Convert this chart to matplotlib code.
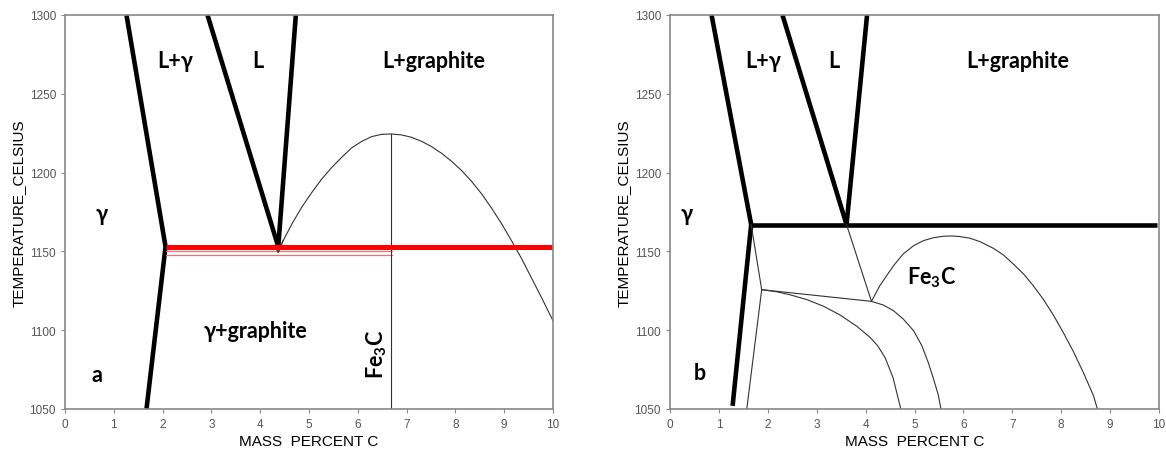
import matplotlib.pyplot as plt
import numpy as np

# ---- panel a (graphite eutectic) ----
a_solidus_c = [1.26, 2.06, 1.67]
a_solidus_t = [1300, 1153, 1050]
a_liq_gamma_c = [2.92, 4.37]
a_liq_gamma_t = [1300, 1153]
a_liq_graph_c = [4.73, 4.37]
a_liq_graph_t = [1300, 1153]
a_eutectic_t = 1152.8
a_eutectic_c = [2.06, 10]
a_meta_t = [1150.2, 1147.8]   # thin red double line
a_meta_c = [2.06, 6.7]
a_v_c = [4.30, 4.37, 4.47]
a_v_t = [1153, 1149.4, 1157]
a_cem_c = [4.37, 4.47, 4.65, 4.85, 5.06, 5.26, 5.47, 5.67, 5.87, 6.08, 6.28, 6.49,
           6.69, 6.90, 7.10, 7.31, 7.51, 7.72, 7.92, 8.13, 8.33, 8.54, 8.74, 8.95,
           9.15, 9.36, 9.56, 9.77, 10.0]
a_cem_t = [1149.4, 1156.8, 1167.4, 1178.0, 1187.5, 1195.9, 1203.4, 1209.7, 1215.6,
           1219.8, 1222.8, 1224.3, 1224.5, 1223.9, 1222.4, 1219.8, 1216.5, 1212.2,
           1207.2, 1201.2, 1194.5, 1186.4, 1177.5, 1167.4, 1156.8, 1145.2, 1133.1,
           1120.4, 1106.0]
a_fe3c_c = [6.69, 6.69]
a_fe3c_t = [1224.5, 1050]

# ---- panel b (cementite eutectic) ----
b_solidus_c = [0.85, 1.66, 1.28]
b_solidus_t = [1300, 1167, 1052]
b_liq_gamma_c = [2.30, 3.61]
b_liq_gamma_t = [1300, 1167]
b_liq_graph_c = [4.03, 3.61]
b_liq_graph_t = [1300, 1167]
b_eutectic_t = 1167
b_eutectic_c = [1.66, 9.95]
b_thin1_c = [1.66, 1.875, 1.57]
b_thin1_t = [1167, 1125.7, 1050]
b_thin2_c = [1.875, 4.12]
b_thin2_t = [1125.7, 1118.3]
b_thin3_c = [3.61, 4.12]
b_thin3_t = [1167, 1118.3]
b_curve1_c = [1.875, 2.18, 2.45, 2.80, 3.14, 3.48, 3.82, 4.09, 4.25, 4.40, 4.56, 4.72]
b_curve1_t = [1125.7, 1124.4, 1122.5, 1119.4, 1115.2, 1109.6, 1102.5, 1095.5,
              1090.0, 1082.5, 1070.0, 1050]
b_curve2_c = [4.12, 4.36, 4.57, 4.77, 4.98, 5.15, 5.28, 5.40, 5.49, 5.54]
b_curve2_t = [1118.3, 1116.0, 1112.4, 1107.1, 1099.7, 1090.2, 1079.6, 1068.0,
              1058.5, 1050]
b_fe3c_c = [4.12, 4.29, 4.57, 4.77, 4.98, 5.18, 5.39, 5.59, 5.76, 5.93, 6.14,
            6.34, 6.61, 6.82, 7.02, 7.23, 7.43, 7.63, 7.84, 8.04, 8.25, 8.45,
            8.66, 8.74]
b_fe3c_t = [1118.3, 1128.2, 1140.9, 1148.4, 1153.6, 1156.8, 1158.7, 1159.6,
            1159.8, 1159.4, 1158.3, 1156.2, 1152.0, 1147.7, 1142.0, 1135.7,
            1128.2, 1119.8, 1109.6, 1098.7, 1086.4, 1073.3, 1058.5, 1050]

plt.rcParams['mathtext.fontset'] = 'custom'
plt.rcParams['mathtext.bf'] = 'Lato:bold'
plt.rcParams['mathtext.rm'] = 'Lato'

lab_font = ['Lato', 'Noto Sans', 'DejaVu Sans']
ax_font = ['Liberation Sans', 'DejaVu Sans']
fs = 15.5

fig = plt.figure(figsize=(11.66, 4.52), dpi=100)
ax1 = fig.add_axes([65 / 1166, 42 / 452, 488 / 1166, 394 / 452])
ax2 = fig.add_axes([670 / 1166, 42 / 452, 489 / 1166, 394 / 452])

thick = 3.3
thin = 0.8
thin_col = '#333333'

def setup(ax):
    ax.set_xlim(0, 10)
    ax.set_ylim(1050, 1300)
    ax.set_xticks(range(0, 11))
    ax.set_yticks([1050, 1100, 1150, 1200, 1250, 1300])
    for s in ax.spines.values():
        s.set_color('#888888')
        s.set_linewidth(1.2)
    ax.tick_params(colors='#888888', labelcolor='#555555', labelsize=8.5, length=3,
                   direction='out')
    for lab in ax.get_xticklabels() + ax.get_yticklabels():
        lab.set_family(ax_font)
    ax.set_xlabel('MASS  PERCENT C', family=ax_font, fontsize=11, labelpad=3)
    ax.set_ylabel('TEMPERATURE_CELSIUS', family=ax_font, fontsize=11, labelpad=3)

def label(ax, x, y, s, **kw):
    ax.text(x, y, s, family=lab_font, fontweight='bold', fontsize=fs,
            ha='center', va='center', **kw)

# panel a
ax = ax1
setup(ax)
ax.plot(a_solidus_c, a_solidus_t, color='black', lw=thick, solid_capstyle='butt')
ax.plot(a_liq_gamma_c, a_liq_gamma_t, color='black', lw=thick, solid_capstyle='butt')
ax.plot(a_liq_graph_c, a_liq_graph_t, color='black', lw=thick, solid_capstyle='butt')
for t in a_meta_t:
    ax.plot(a_meta_c, [t, t], color='#f07070', lw=0.9)
ax.plot(a_v_c, a_v_t, color=thin_col, lw=thin)
ax.plot(a_cem_c, a_cem_t, color=thin_col, lw=thin)
ax.plot(a_fe3c_c, a_fe3c_t, color=thin_col, lw=thin)
ax.plot(a_eutectic_c, [a_eutectic_t] * 2, color='#ff0000', lw=3.6, solid_capstyle='butt')

label(ax, 2.25, 1271, 'L+γ')
label(ax, 3.95, 1271, 'L')
label(ax, 7.55, 1271, 'L+graphite')
label(ax, 0.75, 1174, 'γ')
label(ax, 3.9, 1100, 'γ+graphite')
ax.text(6.38, 1085, r'$\mathbf{Fe_3C}$', fontsize=fs, rotation=90, ha='center', va='center')
label(ax, 0.65, 1072, 'a')

# panel b
ax = ax2
setup(ax)
ax.plot(b_solidus_c, b_solidus_t, color='black', lw=thick, solid_capstyle='butt')
ax.plot(b_liq_gamma_c, b_liq_gamma_t, color='black', lw=thick, solid_capstyle='butt')
ax.plot(b_liq_graph_c, b_liq_graph_t, color='black', lw=thick, solid_capstyle='butt')
ax.plot(b_eutectic_c, [b_eutectic_t] * 2, color='black', lw=thick, solid_capstyle='butt')
for cx, ty in [(b_thin1_c, b_thin1_t), (b_thin2_c, b_thin2_t), (b_thin3_c, b_thin3_t),
               (b_curve1_c, b_curve1_t), (b_curve2_c, b_curve2_t), (b_fe3c_c, b_fe3c_t)]:
    ax.plot(cx, ty, color=thin_col, lw=thin)

label(ax, 1.9, 1271, 'L+γ')
label(ax, 3.35, 1271, 'L')
label(ax, 7.1, 1271, 'L+graphite')
label(ax, 0.35, 1174, 'γ')
ax.text(5.35, 1134, r'$\mathbf{Fe_3C}$', fontsize=fs, ha='center', va='center')
label(ax, 0.6, 1073, 'b')

fig.savefig('out.png', dpi=100)
